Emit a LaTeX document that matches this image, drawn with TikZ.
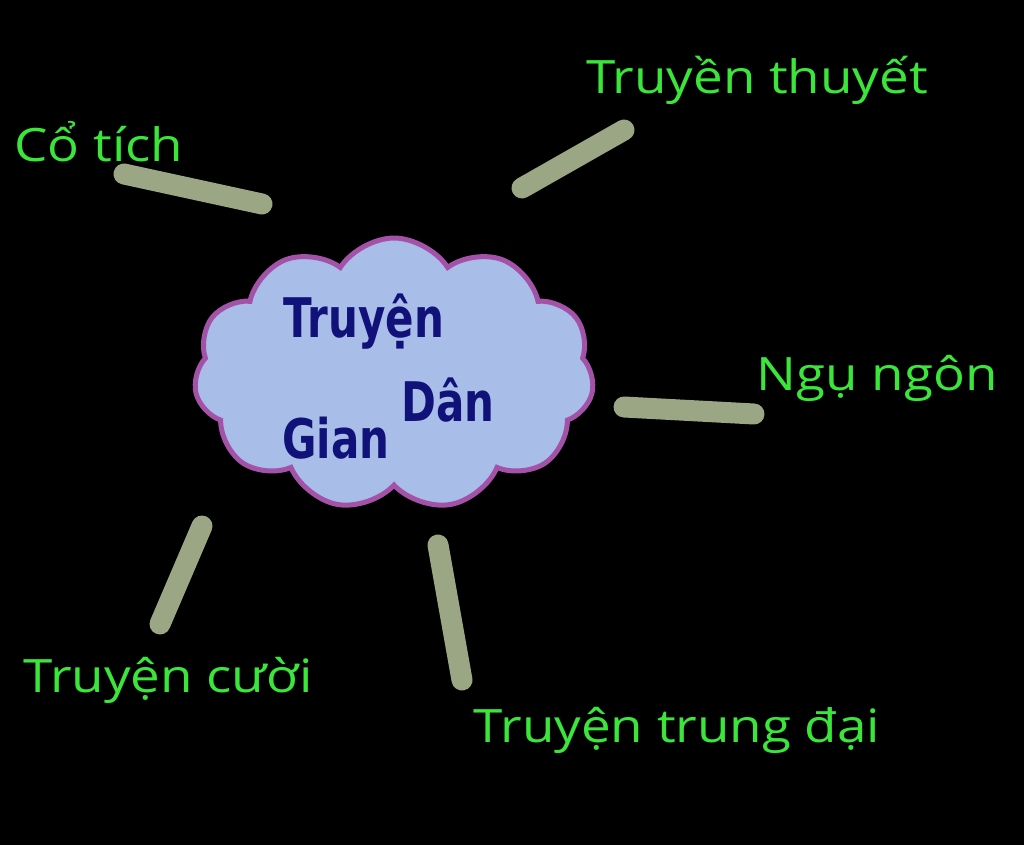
\documentclass[tikz,border=0pt]{standalone}
\usepackage{fontspec}
\setmainfont{Open Sans}
\newfontfamily\cloudfont{DejaVu Sans}
\usetikzlibrary{shapes.symbols}
\definecolor{lblgreen}{HTML}{3BE63B}
\definecolor{strokeclr}{HTML}{9AA684}
\definecolor{cloudfill}{HTML}{A8BDE8}
\definecolor{cloudline}{HTML}{A452A8}
\definecolor{navy}{HTML}{10127A}
\newcommand{\lbltext}[1]{\scalebox{1.15}[1]{#1}}
\newcommand{\bigtext}[1]{\scalebox{1}[1.3]{#1}}
\begin{document}
\begin{tikzpicture}[x=1pt,y=-1pt,
  lbl/.style={text=lblgreen,font=\fontsize{46}{48}\selectfont,inner sep=0pt},
  bigtxt/.style={text=navy,font=\cloudfont\bfseries\fontsize{42}{44}\selectfont,inner sep=0pt},
  brush/.style={draw=strokeclr,line width=21pt,line cap=round}]
\fill[black] (0,0) rectangle (1024,845);
\useasboundingbox (0,0) rectangle (1024,845);
\node[cloud,cloud puffs=11,cloud puff arc=115,aspect=1.5,minimum width=400pt,minimum height=272pt,
  fill=cloudfill,draw=cloudline,line width=5pt] (c) at (394,374) {};
\node[bigtxt] (t1) at (364,322) {\bigtext{Truyện}};
\node[bigtxt] (t2) at (448,400) {\bigtext{Dân}};
\node[bigtxt] (t3) at (336,438) {\bigtext{Gian}};
% labels
\node[lbl] (l1) at (757,80) {\lbltext{Truyền thuyết}};
\node[lbl] (l2) at (99,142) {\lbltext{Cổ tích}};
\node[lbl] (l3) at (877,378) {\lbltext{Ngụ ngôn}};
\node[lbl] (l4) at (168,680) {\lbltext{Truyện cười}};
\node[lbl] (l5) at (677,730) {\lbltext{Truyện trung đại}};
% connector ends
\coordinate (a1) at (522,188); \coordinate (b1) at (624,130);
\coordinate (a2) at (124,174); \coordinate (b2) at (262,204);
\coordinate (a3) at (624,407); \coordinate (b3) at (754,414);
\coordinate (a4) at (202,526); \coordinate (b4) at (160,624);
\coordinate (a5) at (438,545); \coordinate (b5) at (462,680);
\foreach \i in {1,...,5} \draw[brush] (a\i) -- (b\i);
\end{tikzpicture}
\end{document}
